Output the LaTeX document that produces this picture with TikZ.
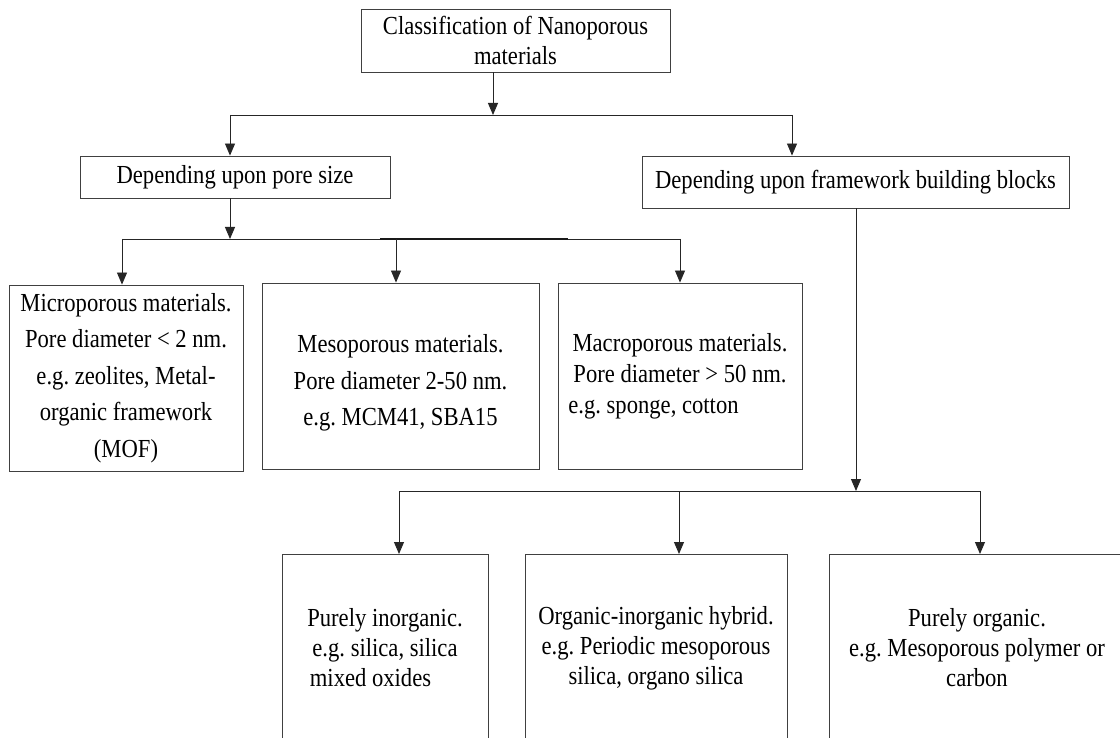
\documentclass[tikz,border=0pt]{standalone}
\usepackage{fontspec}
\setmainfont{Liberation Serif}[FakeStretch=0.87]
\usetikzlibrary{arrows.meta}
\begin{document}
\frenchspacing
\begin{tikzpicture}[x=1pt,y=-1pt,
  txt/.style={inner sep=0pt, align=center, font=\fontsize{26pt}{30pt}\selectfont\frenchspacing},
  box/.style={txt, draw=black!75, line width=0.9pt},
  tall/.style={font=\fontsize{26pt}{36.5pt}\selectfont\frenchspacing},
  ln/.style={draw=black!85, line width=0.9pt},
  arr/.style={ln, -{Triangle[width=10pt,length=12pt]}}]
\useasboundingbox[fill=white] (0,0) rectangle (1120,738);
% top
\node[box, minimum width=309pt, minimum height=63pt] (top) at (515.5,40.5)
  {Classification of Nanoporous\\materials};
\node[box, minimum width=310pt, minimum height=42pt] (pore) at (235,177)
  {Depending upon pore size};
\node[box, minimum width=427pt, minimum height=52pt] (frame) at (855.5,182)
  {Depending upon framework building blocks};
% pore-size boxes
\node[box, tall, minimum width=234pt, minimum height=186pt] (micro) at (126,378)
  {Microporous materials.\\Pore diameter < 2 nm.\\e.g. zeolites, Metal-\\organic framework\\(MOF)};
\node[box, tall, minimum width=277pt, minimum height=186pt] (meso) at (400.5,376)
  {\mbox{}\\[-4.5pt]Mesoporous materials.\\Pore diameter 2-50 nm.\\e.g. MCM41, SBA15};
\node[box, minimum width=244pt, minimum height=186pt, font=\fontsize{26pt}{31pt}\selectfont\frenchspacing] (macro) at (680,376)
  {Macroporous materials.\\Pore diameter > 50 nm.\\e.g. sponge, cotton\hspace*{53pt}};
% framework boxes (open at the bottom)
\node[txt, minimum width=206pt, minimum height=184pt] (inorg) at (385,648)
  {Purely inorganic.\\e.g. silica, silica\\mixed oxides\hspace*{29pt}};
\node[txt, minimum width=262pt, minimum height=184pt] (hybrid) at (656,648)
  {Organic-inorganic hybrid.\\e.g. Periodic mesoporous\\silica, organo silica};
\node[txt, minimum width=296pt, minimum height=184pt] (org) at (977,648)
  {Purely organic.\\e.g. Mesoporous polymer or\\carbon};
\coordinate (edgeR) at (1120,554);
\coordinate (iTL) at (282,554);
\coordinate (iTR) at (488,554);
\coordinate (hTL) at (525,554);
\coordinate (hTR) at (787,554);
\coordinate (oTL) at (829,554);
\coordinate (bot) at (0,740);
\draw[draw=black!75, line width=0.9pt] (iTL |- bot) -- (iTL) -- (iTR) -- (iTR |- bot);
\draw[draw=black!75, line width=0.9pt] (hTL |- bot) -- (hTL) -- (hTR) -- (hTR |- bot);
\draw[draw=black!75, line width=0.9pt] (oTL |- bot) -- (oTL) -- (edgeR);
% level 1 connectors
\coordinate (a0) at (493,115);
\coordinate (aL) at (230,115);
\coordinate (aR) at (792,115);
\draw[arr] (top.south -| a0) -- (a0);
\draw[ln] (aL) -- (aR);
\draw[arr] (aL) -- (aL |- pore.north);
\draw[arr] (aR) -- (aR |- frame.north);
% level 2 connectors (pore size)
\coordinate (b0) at (230,239);
\coordinate (bL) at (122,239);
\coordinate (bM) at (396,239);
\coordinate (bR) at (680,239);
\coordinate (bt1) at (380,239);
\coordinate (bt2) at (568,239);
\draw[arr] (pore.south -| b0) -- (b0);
\draw[ln] (bL) -- (bR);
\draw[draw=black!90, line width=1.6pt] (bt1) -- (bt2);
\draw[arr] (bL) -- (bL |- micro.north);
\draw[arr] (bM) -- (bM |- meso.north);
\draw[arr] (bR) -- (bR |- macro.north);
% level 2 connectors (framework)
\coordinate (c0) at (856,491);
\coordinate (cL) at (399,491);
\coordinate (cM) at (679,491);
\coordinate (cR) at (980,491);
\draw[arr] (frame.south -| c0) -- (c0);
\draw[ln] (cL) -- (cR);
\draw[arr] (cL) -- (iTL -| cL);
\draw[arr] (cM) -- (hTL -| cM);
\draw[arr] (cR) -- (oTL -| cR);
\end{tikzpicture}
\end{document}
